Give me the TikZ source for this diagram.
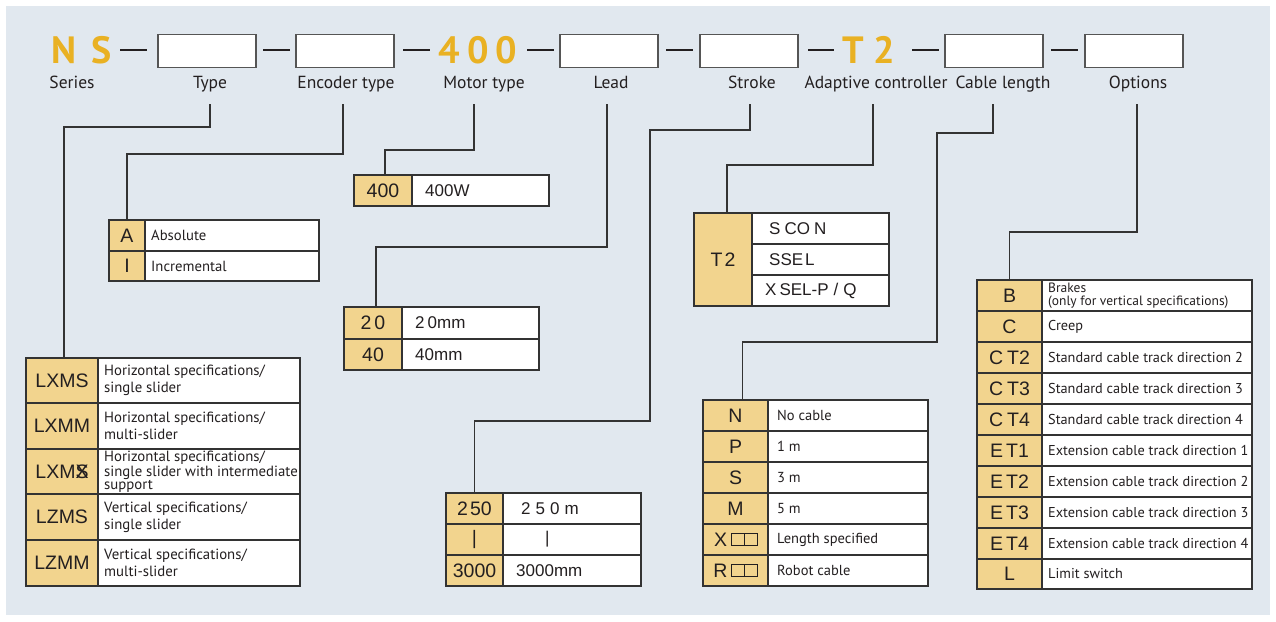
\documentclass[tikz,border=0pt]{standalone}
\usepackage{fontspec}
\setmainfont{PT Sans}
\newfontfamily\myCodeFam{Liberation Sans}
\definecolor{bgc}{RGB}{225,232,239}
\definecolor{codec}{RGB}{242,212,142}
\definecolor{linec}{RGB}{51,51,51}
\definecolor{orng}{RGB}{233,177,35}
\definecolor{txtc}{RGB}{35,31,32}
\definecolor{boxc}{RGB}{85,85,85}
\newcommand\trow[9]{%
 \node[codecell, minimum width={#3-#2}, minimum height={#6-#5}, anchor=north west] (#1c) at (#2,#5) {#7};
 \node[desccell, minimum width={#4-#3}, minimum height={#6-#5}, anchor=north west] (#1d) at (#3,#5) {};
 \node[desctext, #9] (#1t) at (#1d.west) {#8};
}
\begin{document}
\begin{tikzpicture}[x=1pt,y=-1pt,
 conn/.style={draw=linec, line width=1.6pt},
 codecell/.style={draw=linec, line width=1.1pt, fill=codec, inner sep=0pt, outer sep=0pt, text=txtc, font=\myCodeFam\fontsize{19.5}{19.5}\selectfont},
 desccell/.style={draw=linec, line width=1.1pt, fill=white, inner sep=0pt, outer sep=0pt},
 desctext/.style={anchor=west, inner sep=0pt, align=left, text=txtc, font=\fontsize{14.3}{15}\selectfont},
 datatext/.style={font=\myCodeFam\fontsize{17}{17}\selectfont},
 topbox/.style={draw=boxc, line width=1.3pt, fill=white, minimum width=98pt, minimum height=33pt, inner sep=0pt, outer sep=0pt},
 toplbl/.style={anchor=base, inner sep=0pt, text=txtc, font=\fontsize{17.5}{17.5}\selectfont},
 orangetxt/.style={anchor=base, inner sep=0pt, text=orng, font=\bfseries\fontsize{38}{38}\selectfont},
 sepdash/.style={draw=txtc, line width=2.8pt},
 tblframe/.style={draw=linec, line width=1.8pt},
 smallbox/.style={draw=txtc, line width=0.8pt}
]
\useasboundingbox (0,0) rectangle (1276,621);
\fill[white] (0,0) rectangle (1276,621);
\fill[bgc] (6,6) rectangle (1270,615);

% ---- top row ----
\node[orangetxt] (ns) at (82,63) {N\kern15pt S};
\node[topbox] (bType) at (207,51) {};
\node[topbox] (bEnc) at (345,51) {};
\node[orangetxt] (m400) at (478,63) {4\kern7pt 0\kern7pt 0};
\node[topbox] (bLead) at (609,51) {};
\node[topbox] (bStroke) at (749,51) {};
\node[orangetxt] (t2) at (869,63) {T\kern9pt 2};
\node[topbox] (bCable) at (994,51) {};
\node[topbox] (bOpt) at (1134,51) {};

\draw[sepdash] (120,50) -- (147,50);
\draw[sepdash] (263,50) -- (290,50);
\draw[sepdash] (403,50) -- (430,50);
\draw[sepdash] (527,50) -- (554,50);
\draw[sepdash] (666,50) -- (693,50);
\draw[sepdash] (808,50) -- (834,50);
\draw[sepdash] (912,50) -- (939,50);
\draw[sepdash] (1051,50) -- (1078,50);

\node[toplbl] (lSeries) at (72,88) {Series};
\node[toplbl] (lType) at (210,88) {Type};
\node[toplbl] (lEnc) at (346,88) {Encoder type};
\node[toplbl] (lMotor) at (484,88) {Motor type};
\node[toplbl] (lLead) at (611,88) {Lead};
\node[toplbl] (lStroke) at (752,88) {Stroke};
\node[toplbl] (lAdapt) at (876,88) {Adaptive controller};
\node[toplbl] (lCable) at (1003,88) {Cable length};
\node[toplbl] (lOpt) at (1138,88) {Options};

% ---- tables ----
% Encoder
\trow{tA1}{109}{145}{319}{220}{251}{A}{Absolute}{xshift=6pt, font=\fontsize{14.7}{15}\selectfont}
\trow{tA2}{109}{145}{319}{251}{281}{I}{Incremental}{xshift=6pt, font=\fontsize{14.7}{15}\selectfont}
\draw[tblframe] (tA1c.north west) rectangle (tA2d.south east);

% Motor
\trow{tM1}{354}{412}{549}{175}{206}{400}{400W}{datatext, xshift=13pt}
\draw[tblframe] (tM1c.north west) rectangle (tM1d.south east);

% Lead
\trow{tL1}{344}{402}{539}{307}{339}{2\kern3pt 0}{2\kern3pt 0mm}{datatext, xshift=13pt}
\trow{tL2}{344}{402}{539}{339}{370}{40}{40mm}{datatext, xshift=13pt}
\draw[tblframe] (tL1c.north west) rectangle (tL2d.south east);

% Adaptive controller
\node[codecell, minimum width={752-694}, minimum height={306-213}, anchor=north west] (tT2c) at (694,213) {T\kern2pt 2};
\node[desccell, minimum width={889-752}, minimum height={244-213}, anchor=north west] (tT2ad) at (752,213) {};
\node[desctext, datatext, xshift=17pt] (tT2at) at (tT2ad.west) {S\kern4pt CO\kern4pt N};
\node[desccell, minimum width={889-752}, minimum height={275-244}, anchor=north west] (tT2bd) at (752,244) {};
\node[desctext, datatext, xshift=17pt] (tT2bt) at (tT2bd.west) {SSE\kern2pt L};
\node[desccell, minimum width={889-752}, minimum height={306-275}, anchor=north west] (tT2cd) at (752,275) {};
\node[desctext, datatext, xshift=13pt] (tT2ct) at (tT2cd.west) {X\kern3pt SEL-P\kern5pt /\kern5pt Q};
\draw[tblframe] (tT2c.north west) rectangle (tT2cd.south east);

% Type
\trow{tLX1}{26}{98}{300}{358}{403}{LXMS}{Horizontal specifications/\\single slider}{xshift=6pt, font=\fontsize{14.8}{17}\selectfont}
\trow{tLX2}{26}{98}{300}{403}{449}{LXMM}{Horizontal specifications/\\multi-slider}{xshift=6pt, font=\fontsize{14.8}{17}\selectfont}
\trow{tLX3}{26}{98}{300}{449}{494}{LXM\rlap{X}S}{Horizontal specifications/\\single slider with intermediate\\support}{xshift=6pt, font=\fontsize{14.8}{13}\selectfont}
\trow{tLX4}{26}{98}{300}{494}{540}{LZMS}{Vertical specifications/\\single slider}{xshift=6pt, font=\fontsize{14.8}{17}\selectfont}
\trow{tLX5}{26}{98}{300}{540}{586}{LZMM}{Vertical specifications/\\multi-slider}{xshift=6pt, font=\fontsize{14.8}{17}\selectfont}
\draw[tblframe] (tLX1c.north west) rectangle (tLX5d.south east);

% Stroke
\trow{tS1}{446}{503}{641}{493}{524}{2\kern2pt 50}{2\kern5pt 5\kern5pt 0\kern5pt m}{datatext, xshift=18pt}
\trow{tS2}{446}{503}{641}{524}{555}{|}{|}{datatext, xshift=42pt}
\trow{tS3}{446}{503}{641}{555}{586}{3000}{3000mm}{datatext, xshift=13pt}
\draw[tblframe] (tS1c.north west) rectangle (tS3d.south east);

% Cable length
\trow{tN1}{703}{768}{928}{400}{431}{N}{No cable}{xshift=9pt, font=\fontsize{14.5}{15}\selectfont}
\trow{tN2}{703}{768}{928}{431}{462}{P}{1 m}{xshift=9pt, font=\fontsize{14.5}{15}\selectfont}
\trow{tN3}{703}{768}{928}{462}{493}{S}{3 m}{xshift=9pt, font=\fontsize{14.5}{15}\selectfont}
\trow{tN4}{703}{768}{928}{493}{524}{M}{5 m}{xshift=9pt, font=\fontsize{14.5}{15}\selectfont}
\trow{tN5}{703}{768}{928}{524}{555}{X\hspace*{30pt}}{Length specified}{xshift=9pt, font=\fontsize{14.5}{15}\selectfont}
\trow{tN6}{703}{768}{928}{555}{586}{R\hspace*{30pt}}{Robot cable}{xshift=9pt, font=\fontsize{14.5}{15}\selectfont}
\draw[tblframe] (tN1c.north west) rectangle (tN6d.south east);
\draw[smallbox] (731,533) rectangle (744,545) (744,533) rectangle (757,545);
\draw[smallbox] (731,564) rectangle (744,576) (744,564) rectangle (757,576);

% Options
\trow{tB1}{977}{1042}{1252}{280}{311}{B}{Brakes\\(only for vertical specifications)}{xshift=6pt, font=\fontsize{13.5}{12.5}\selectfont}
\trow{tB2}{977}{1042}{1252}{311}{342}{C}{Creep}{xshift=6pt}
\trow{tB3}{977}{1042}{1252}{342}{373}{C\kern4pt T2}{Standard cable track direction 2}{xshift=6pt}
\trow{tB4}{977}{1042}{1252}{373}{404}{C\kern4pt T3}{Standard cable track direction 3}{xshift=6pt}
\trow{tB5}{977}{1042}{1252}{404}{435}{C\kern4pt T4}{Standard cable track direction 4}{xshift=6pt}
\trow{tB6}{977}{1042}{1252}{435}{466}{E\kern3pt T1}{Extension cable track direction 1}{xshift=6pt}
\trow{tB7}{977}{1042}{1252}{466}{497}{E\kern3pt T2}{Extension cable track direction 2}{xshift=6pt}
\trow{tB8}{977}{1042}{1252}{497}{528}{E\kern3pt T3}{Extension cable track direction 3}{xshift=6pt}
\trow{tB9}{977}{1042}{1252}{528}{559}{E\kern3pt T4}{Extension cable track direction 4}{xshift=6pt}
\trow{tB10}{977}{1042}{1252}{559}{589}{L}{Limit switch}{xshift=6pt}
\draw[tblframe] (tB1c.north west) rectangle (tB10d.south east);

% ---- connectors ----
\coordinate (sType) at (210,104);
\coordinate (sEnc) at (343,104);
\coordinate (sMotor) at (474,104);
\coordinate (sLead) at (607,104);
\coordinate (sStroke) at (750,104);
\coordinate (sAdapt) at (873,104);
\coordinate (sCable) at (993,104);
\coordinate (sOpt) at (1137,104);
\coordinate (kStroke) at (650,421);
\coordinate (kCable) at (937,342);

\draw[conn] (sType) -- ++(0,23) -| ([xshift=2pt]tLX1c.north);
\draw[conn] (sEnc) -- ++(0,50) -| (tA1c.north);
\draw[conn] (sMotor) -- ++(0,46) -| ([xshift=2pt]tM1c.north);
\draw[conn] (sLead) -- ++(0,143) -| ([xshift=3pt]tL1c.north);
\draw[conn] (sStroke) -- ++(0,26) -| (kStroke) -| (tS1c.north);
\draw[conn] (sAdapt) -- ++(0,61) -| ([xshift=4pt]tT2c.north);
\draw[conn] (sCable) -- ++(0,29) -| (kCable) -| ([xshift=7pt]tN1c.north);
\draw[conn] (sOpt) -- ++(0,128) -| (tB1c.north);
\end{tikzpicture}
\end{document}
